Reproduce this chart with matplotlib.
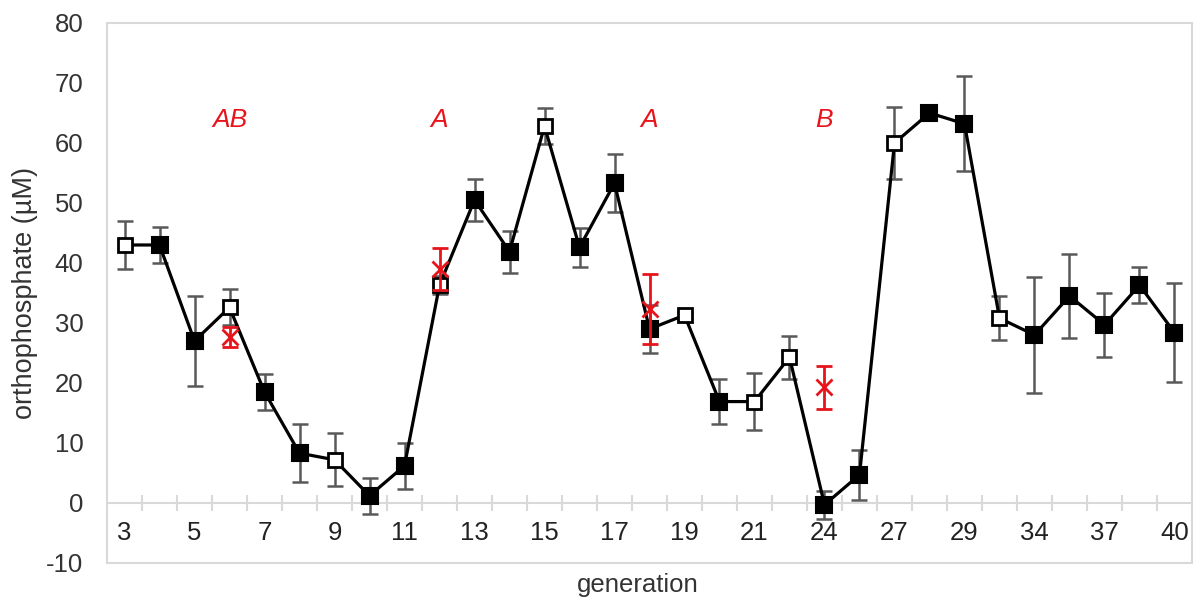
import matplotlib
matplotlib.use('Agg')
import matplotlib.pyplot as plt
import matplotlib.patches as patches
import numpy as np

plt.rcParams['font.family'] = ['Liberation Sans', 'DejaVu Sans']
plt.rcParams['axes.unicode_minus'] = False

generations = ['3', '4', '5', '6', '7', '8', '9', '10', '11', '12', '13', '14', '15', '16',
               '17', '18', '19', '20', '21', '22', '24', '25', '27', '28', '29', '31', '34',
               '35', '37', '38', '40']
phosphate = [43, 43, 27, 32.6, 18.5, 8.3, 7.2, 1.2, 6.2, 36.3, 50.5, 41.9, 62.8, 42.6,
             53.3, 29, 31.3, 16.9, 16.9, 24.3, -0.3, 4.7, 60, 65, 63.2, 30.8, 28, 34.5,
             29.7, 36.3, 28.4]
phosphate_err = [4, 3, 7.5, 3, 3, 4.8, 4.4, 3, 3.8, 1.5, 3.5, 3.5, 3, 3.3,
                 4.8, 4, 0.5, 3.8, 4.8, 3.6, 2.3, 4.2, 6, 1, 7.9, 3.7, 9.6, 7,
                 5.3, 3, 8.3]
open_gen = ['3', '6', '9', '12', '15', '19', '21', '22', '27', '31']

# red reference measurements with significance letters
ref_gen = ['6', '12', '18', '24']
ref_val = [27.7, 39, 32.3, 19.3]
ref_err = [1.7, 3.5, 5.8, 3.6]
ref_letters = ['AB', 'A', 'A', 'B']

x = np.arange(len(generations))
is_open = np.array([g in open_gen for g in generations])
ref_x = [generations.index(g) for g in ref_gen]

fig = plt.figure(figsize=(12.01, 5.97), dpi=100)
ax = fig.add_axes([0.0891, 0.0570, 0.9034, 0.9045])

grey = '#d9d9d9'
ax.errorbar(x, phosphate, yerr=phosphate_err, fmt='none', ecolor='#595959',
            elinewidth=1.8, capsize=6, capthick=1.8, zorder=2)
ax.plot(x, phosphate, color='black', lw=2.3, zorder=3)
ax.plot(x[~is_open], np.array(phosphate)[~is_open], 's', ms=11.5, mfc='black',
        mec='black', mew=1.5, zorder=4, ls='none')
ax.plot(x[is_open], np.array(phosphate)[is_open], 's', ms=10.5, mfc='white',
        mec='black', mew=2, zorder=4, ls='none')

ax.errorbar(ref_x, ref_val, yerr=ref_err, fmt='x', color='#e8141c', ms=12, mew=2,
            elinewidth=2, capsize=6, capthick=2, zorder=5)
for xi, lab in zip(ref_x, ref_letters):
    ax.text(xi, 63.8, lab, color='#e8141c', style='italic', fontsize=19,
            ha='center', va='center')

ax.set_xlim(-0.5, len(generations) - 0.5)
ax.set_ylim(-10, 80)
ax.set_yticks(np.arange(-10, 81, 10))

ax.spines['top'].set_visible(False)
ax.spines['right'].set_visible(False)
ax.spines['left'].set_visible(False)
ax.spines['bottom'].set_position(('data', 0))
ax.spines['bottom'].set_color(grey)
ax.spines['bottom'].set_linewidth(1.5)
ax.add_patch(patches.Rectangle((0, 0), 1, 1, transform=ax.transAxes, fill=False,
                               ec=grey, lw=1.5, clip_on=False, zorder=0))

ax.set_xticks(x[::2])
ax.set_xticklabels(generations[::2])
ax.set_xticks(x[:-1] + 0.5, minor=True)
ax.tick_params(axis='x', which='major', length=0, pad=13, labelsize=18.5)
ax.tick_params(axis='x', which='minor', direction='inout', length=12, width=1.5,
               color=grey)
ax.tick_params(axis='y', length=0, pad=17, labelsize=18.5, labelcolor='#333333')
ax.tick_params(axis='x', labelcolor='#222222')

ax.set_ylabel('orthophosphate (µM)', fontsize=19.5, color='#333333', va='center')
ax.yaxis.set_label_coords(-0.0756, 0.5)
ax.text(0.489, -0.04, 'generation', transform=ax.transAxes, fontsize=18.5,
        color='#333333', ha='center', va='center')

plt.savefig('out.png', dpi=100)
